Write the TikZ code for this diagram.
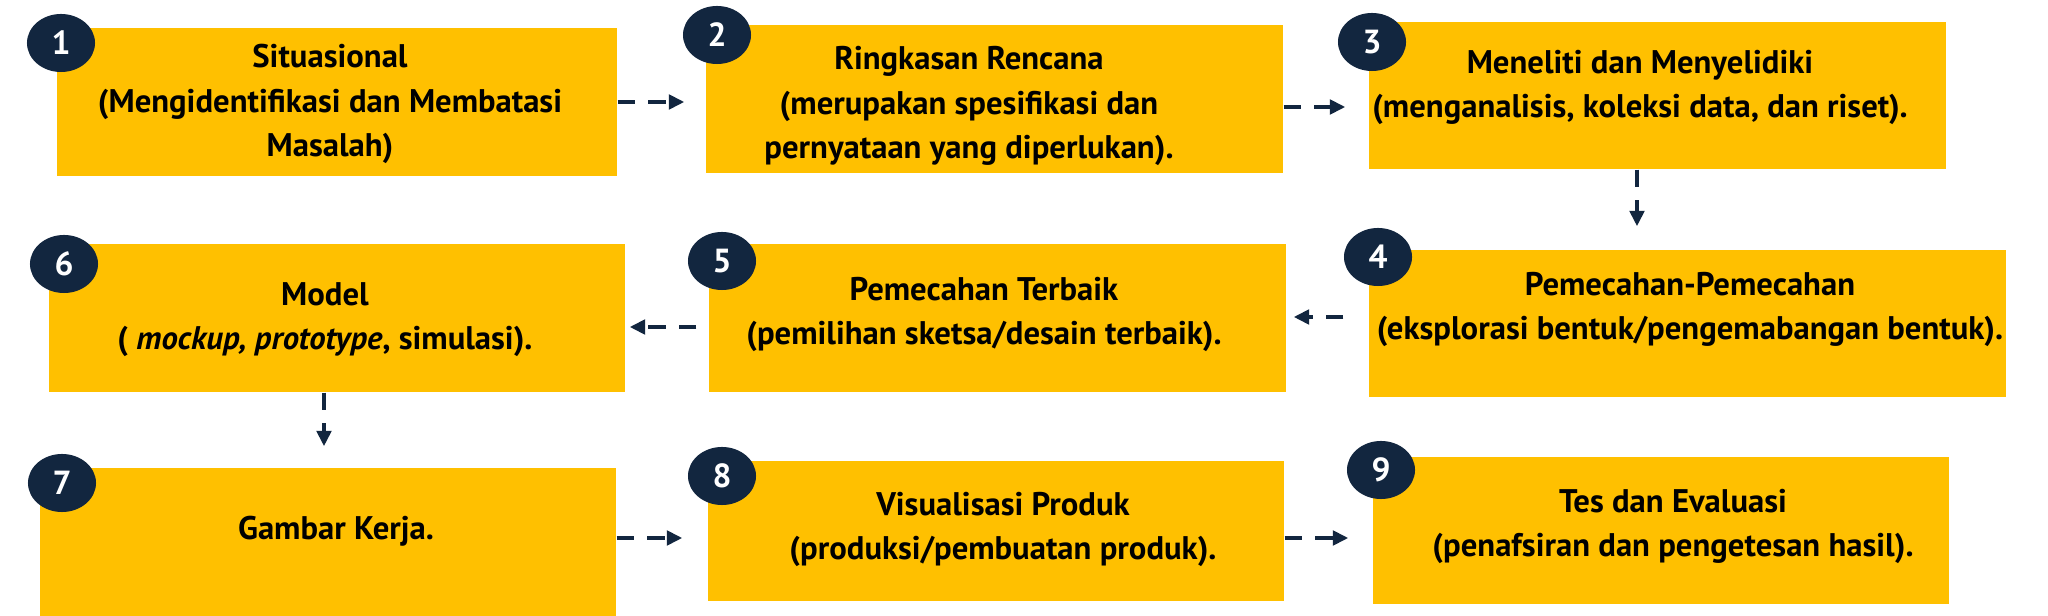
\documentclass[tikz,border=0pt]{standalone}
\usepackage{fontspec}
\setmainfont{PT Sans}
\usetikzlibrary{arrows.meta,fit,shapes.geometric}
\definecolor{gold}{HTML}{FFC000}
\definecolor{navy}{HTML}{12263F}
\begin{document}
\begin{tikzpicture}[x=0.01cm,y=-0.01cm,
  box/.style={fill=gold, draw=none, inner sep=0pt},
  num/.style={ellipse, fill=navy, draw=none, minimum width=0.68cm, minimum height=0.58cm, inner sep=0pt, text=white, font=\bfseries\fontsize{9.5}{10}\selectfont},
  txt/.style={align=center, font=\bfseries\fontsize{9.3}{12.7}\selectfont, inner sep=0pt, anchor=base},
  arr/.style={draw=navy, line width=1.3pt, dash pattern=on 5pt off 3.7pt, -{Triangle[length=4.4pt,width=4.1pt]}}]
\fill[white] (0,0) rectangle (2048,616);
\useasboundingbox (0,0) rectangle (2048,616);
% boxes
\node[box, fit={(57,28) (617,176)}] (b1) {};
\node[box, fit={(706,25) (1283,173)}] (b2) {};
\node[box, fit={(1369,22) (1946,169)}] (b3) {};
\node[box, fit={(1369,250) (2006,397)}] (b4) {};
\node[box, fit={(709,244) (1286,392)}] (b5) {};
\node[box, fit={(49,244) (625,392)}] (b6) {};
\node[box, fit={(40,468) (616,616)}] (b7) {};
\node[box, fit={(708,461) (1284,601)}] (b8) {};
\node[box, fit={(1373,457) (1949,604)}] (b9) {};
% texts (anchor = baseline of the last line)
\node[txt] (t1) at (330,157) {Situasional\\(Mengidentifikasi dan Membatasi\\Masalah)};
\node[txt] (t2) at (969,159) {Ringkasan Rencana\\(merupakan spesifikasi dan\\pernyataan yang diperlukan).};
\node[txt] (t3) at (1640,118) {Meneliti dan Menyelidiki\\(menganalisis, koleksi data, dan riset).};
\node[txt] (t4) at (1690,340) {Pemecahan-Pemecahan\\(eksplorasi bentuk/pengemabangan bentuk).};
\node[txt] (t5) at (984,345) {Pemecahan Terbaik\\(pemilihan sketsa/desain terbaik).};
\node[txt] (t6) at (325,350) {Model\\( \textit{mockup, prototype}, simulasi).};
\node[txt] (t7) at (336,540) {Gambar Kerja.};
\node[txt] (t8) at (1003,560) {Visualisasi Produk\\(produksi/pembuatan produk).};
\node[txt] (t9) at (1673,557) {Tes dan Evaluasi\\(penafsiran dan pengetesan hasil).};
% number badges
\node[num] (c1) at (61,43) {1};
\node[num] (c2) at (717,35) {2};
\node[num] (c3) at (1372,42) {3};
\node[num] (c4) at (1378,257) {4};
\node[num] (c5) at (722,261) {5};
\node[num] (c6) at (64,264) {6};
\node[num] (c7) at (62,483) {7};
\node[num] (c8) at (722,476) {8};
\node[num] (c9) at (1381,470) {9};
% connectors
\coordinate (a12) at (b1.east);
\draw[arr, shorten >=0.21cm] (a12) -- (a12 -| b2.west);
\coordinate (a23) at ([yshift=-0.08cm]b2.east);
\draw[arr, shorten >=0.23cm] (a23) -- (a23 -| b3.west);
\coordinate (a34) at ([xshift=-0.205cm]b3.south);
\draw[arr, shorten >=0.23cm] (a34) -- (a34 |- b4.north);
\coordinate (a45) at ([yshift=0.065cm]b4.west);
\draw[arr, shorten <=0.25cm, shorten >=0.07cm] (a45) -- (a45 -| b5.east);
\coordinate (a56) at ([yshift=-0.09cm]b5.west);
\draw[arr, shorten <=0.12cm, shorten >=0.04cm] (a56) -- (a56 -| b6.east);
\coordinate (a67) at ([xshift=-0.13cm]b6.south);
\draw[arr, shorten >=0.21cm] (a67) -- (a67 |- b7.north);
\coordinate (a78) at ([yshift=0.04cm]b7.east);
\draw[arr, shorten >=0.25cm] (a78) -- (a78 -| b8.west);
\coordinate (a89) at ([yshift=-0.07cm]b8.east);
\draw[arr, shorten >=0.24cm] (a89) -- (a89 -| b9.west);
\end{tikzpicture}
\end{document}
